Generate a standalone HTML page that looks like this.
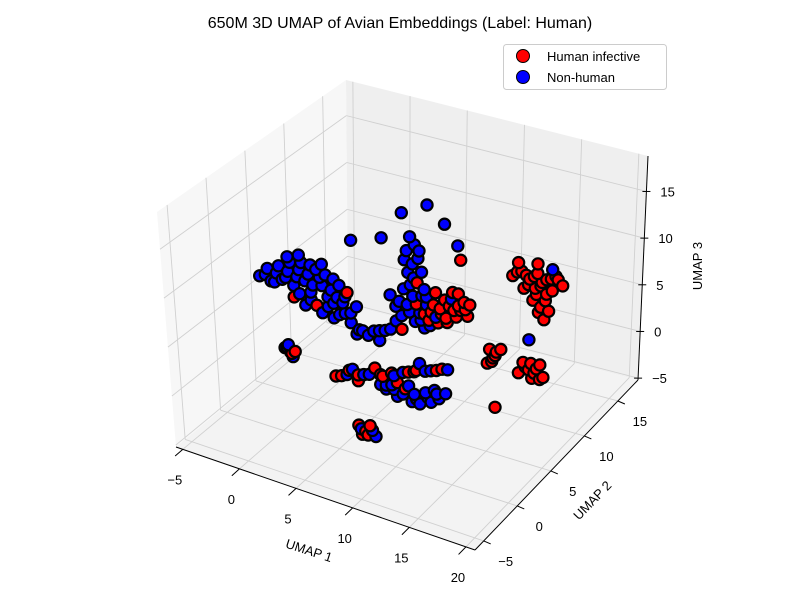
<!DOCTYPE html>
<html><head><meta charset="utf-8"><style>
html,body{margin:0;padding:0;background:#fff;}
svg{display:block;font-family:"Liberation Sans","DejaVu Sans",sans-serif;}
</style></head><body>
<svg id="chart" width="800" height="600" viewBox="0 0 800 600" xmlns="http://www.w3.org/2000/svg">
<text x="400" y="28" text-anchor="middle" font-size="16" fill="#000">650M 3D UMAP of Avian Embeddings (Label: Human)</text>
<g id="panes"></g>
<g id="grid"></g>
<g id="axes"></g>
<g id="points"></g>
<text x="310" y="552" font-size="13" transform="rotate(18 300 546)" text-anchor="middle">UMAP 1</text>
<text x="592" y="505" font-size="13" transform="rotate(-46 592 500)" text-anchor="middle">UMAP 2</text>
<text x="702" y="266" font-size="13" transform="rotate(-90 702 266)" text-anchor="middle">UMAP 3</text>
<g>
<rect x="503.5" y="44.5" width="163" height="45" rx="3" fill="#fff" stroke="#ccc"/>
<g><circle cx="523" cy="56" r="6.5" fill="#ff0000" stroke="#000"/><text x="547" y="61" font-size="13">Human infective</text></g>
<g><circle cx="523" cy="77" r="6.5" fill="#0000ff" stroke="#000"/><text x="547" y="82" font-size="13">Non-human</text></g>
</g>
</svg>
<script>
// axis limits and ticks
const xLim = [-5.6, 20.8];
const yLim = [-6.3, 18.0];
const zLim = [-5.2, 18.8];
const xTicks = [-5, 0, 5, 10, 15, 20];
const yTicks = [-5, 0, 5, 10, 15];
const zTicks = [-5, 0, 5, 10, 15];
// data: UMAP coordinates and label (1 = human infective, 0 = non-human)
const umap1 = [
-5.5,-5,-4.5,-4,-3.5,-3,-2.5,-2,-1.5,-1,-0.5,0,0.5,1,1.5,2,2.5,3,-3,-2,-1,0,1,-2.5,-1.5,-0.5,0.5,1.5,2.5,3.2,
-3.5,-3,-2.6,-3.2,-2.8,
7.8,8.2,7.5,8.5,8.0,8.8,7.6,8.4,9.0,7.2,8.0,9.2,7.5,8.6,9.4,7.0,8.2,9.0,6.5,6.0,10,
3.5,4.5,5.5,3,5,6,
9,9.8,10.5,11.2,12,12.5,10.2,11,11.8,9.5,10.8,12.8,9.2,11.5,
1,2,3,4,5,6,7,8,9,10,11,2.5,4.5,6.5,8.5,5.5,
5,6,7,8,9,10,6.5,8.5,7.5,9.5,10.8,
6.8,7.4,8,7.1,7.8,8.3,
13,13.8,14.5,15.2,16,16.8,17.4,14,15,16,14.8,15.5,16.2,13.5,15.2,16.5,15.8,
11.0,11.5,10.8,11.2,12,14.5,
14,14.5,15.2,15.8,14.8,15.5,13.6,
15.2,
5.44,3.18,1.37,6.97,8.14,8.4,-1.34,
-4.8,-4.2,-3.8,-3.2,-2.8,-2.2,-1.8,-1.2,-0.8,-0.2,0.3,0.8,1.3,1.8,2.2,-1.0,0,1,2,-2,
7.3,8.6,8.1,7.8,8.8,8.3,7.7,8.7,9.6,6.8,5.0,4.0,6.5,7.0,
9.6,10.4,11.6,12.2,10.9,11.4,12.6,13,10,12,
1.5,2.2,3.5,5.2,6.2,7.5,8.2,9.5,10.5,3.0,
5.5,6.2,7.2,8.2,9.2,10.2,7.8,9.8,
13.4,14.2,14.9,15.6,16.4,17,14.4,15.5,16.5,15.1,15.9,15.3,
14.2,15,15.5,14.7,
11.3,11.6,
-3.3,-2.9,
7.6,7.0
];
const umap2 = [
6,6,6,6,6,6,6,6,6,6,6,6,6,6,6,6,6,6,6,6,6,6,6,6,6,6,6,6,6,6,
6,6,6,6,6,
6,6,6,6,6,6,6,6,6,6,6,6,6,6,6,6,6,6,6,6,6,
6,6,6,6,6,6,
6,6,6,6,6,6,6,6,6,6,6,6,6,6,
6,6,6,6,6,6,6,6,6,6,6,6,6,6,6,6,
6,6,6,6,6,6,6,6,6,6,6,
0,0,0,0,0,0,
12,12,12,12,12,12,12,12,12,12,12,12,12,12,12,12,12,
12,12,12,12,12,12,
12,12,12,12,12,12,12,
6,
12,12,12,12,12,12,12,
6,6,6,6,6,6,6,6,6,6,6,6,6,6,6,6,6,6,6,6,
6,6,6,6,6,6,6,6,6,6,6,6,6,6,
6,6,6,6,6,6,6,6,6,6,
6,6,6,6,6,6,6,6,6,6,
6,6,6,6,6,6,6,6,
12,12,12,12,12,12,12,12,12,12,12,12,
12,12,12,12,
12,12,
6,6,
0,0
];
const umap3 = [
5.2,5.5,5.0,6.0,5.5,6.5,5.2,7.0,6.0,5.0,7.5,6.0,5.0,4.5,6.5,5.5,4.0,4.8,8.0,8.5,7.8,8.2,7.0,4.0,3.5,3.8,4.0,3.5,3.0,2.5,
-1.6,-1.9,-1.7,-1.2,-2.3,
13.5,12.8,12.0,11.5,10.8,10.2,9.8,9.0,8.5,8.0,7.5,7.0,6.5,6.0,5.5,5.2,5.0,4.6,6.0,7.0,6,
2.5,2.8,3.2,2,2,3.5,
6,7.2,6.5,7.5,7.8,8.3,5.5,5.8,6.6,5,8,7,7.8,9,
-3,-2.5,-2.2,-1.8,-1.5,-1,-0.6,-0.2,0.2,0.6,1.0,-1.8,-1.0,-1.8,0.8,-2.4,
-2.5,-2.2,-2.8,-2.5,-2.0,-1.8,-3.2,-3.3,-1.8,-2.8,-1.5,
-2.2,-2.6,-2.3,-3.0,-1.9,-2.8,
7.5,8.2,7.6,8.4,8.0,8.6,7.8,6.5,6.8,6.5,5.5,5.0,4.8,9,9.4,9.2,3.8,
-0.8,-1.3,-2.3,-2.0,-0.5,1.3,
-1.2,-1.8,-1.5,-2.2,-2.6,-1.0,-2.4,
-1.4,
12.5,11.0,7.8,10.97,9.07,7.66,6.68,
6.2,5.0,6.8,5.8,7.5,6.2,7.8,6.8,5.8,6.8,7.2,5.8,5.2,4.8,6.0,4.2,3.2,3.0,3.8,4.5,
11,12.3,9.4,8.6,7.8,6.8,5.8,5.3,6.4,6.6,3.0,2.2,4.5,3.8,
6.4,7.0,7.2,7.4,6.2,8.3,7.6,8.2,8.5,9,
-2.8,-2.0,-2.0,-1.6,-1.2,-0.4,0.0,0.4,0.9,-2.8,
-2.8,-2.6,-2.2,-2.9,-2.4,-2.2,-3.3,-1.5,
8.0,7.9,8.0,7.6,8.2,8.3,7.0,7.2,7.0,6.2,5.8,4.4,
-1.6,-2.0,-2.5,-1.1,
-1.6,-0.9,
-1.5,-2.0,
-2.9,-2.5
];
const isHuman = [
0,0,0,0,0,0,0,0,0,0,0,0,0,0,0,0,0,0,0,0,0,0,0,1,0,1,0,0,0,0,
0,0,1,0,0,
0,0,0,0,0,0,0,1,0,0,0,0,0,0,1,0,0,0,0,0,0,
0,0,0,0,0,0,
1,1,1,1,1,1,1,1,1,0,1,1,0,1,
1,0,1,0,1,1,0,1,0,1,0,0,1,1,0,0,
0,0,0,0,0,0,0,0,0,0,0,
1,1,0,1,1,0,
1,1,1,1,1,1,1,1,1,1,1,1,1,1,1,0,1,
1,1,1,1,1,0,
1,1,1,1,1,1,1,
1,
0,0,0,0,0,1,0,
0,0,0,0,0,0,0,0,0,0,0,0,0,0,1,0,0,0,0,0,
0,0,0,0,0,1,0,0,0,0,0,0,0,1,
1,1,1,1,1,0,1,1,1,1,
1,1,0,1,0,1,1,0,1,1,
0,0,1,0,0,0,0,0,
1,1,1,1,1,1,1,1,1,1,1,1,
1,1,1,1,
1,1,
0,1,
1,0
];

const NS = "http://www.w3.org/2000/svg";
const C = {
 "000":[176,447],"100":[475,550],"110":[638,380],"010":[348,305],
 "001":[157,212],"101":[470,292],"111":[648,156],"011":[346,80]
};
function proj(x,y,z){
  const u=(x-xLim[0])/(xLim[1]-xLim[0]), v=(y-yLim[0])/(yLim[1]-yLim[0]), w=(z-zLim[0])/(zLim[1]-zLim[0]);
  let sx=0, sy=0;
  for(const k in C){
    const a=k[0]==="1"?u:1-u, b=k[1]==="1"?v:1-v, c=k[2]==="1"?w:1-w;
    const wt=a*b*c; sx+=wt*C[k][0]; sy+=wt*C[k][1];
  }
  return [sx,sy];
}
function mk(tag, attrs, parent){
  const e=document.createElementNS(NS,tag);
  for(const k in attrs) e.setAttribute(k,attrs[k]);
  parent.appendChild(e); return e;
}
function poly(pts){return pts.map(p=>p[0].toFixed(1)+","+p[1].toFixed(1)).join(" ");}
const X0=xLim[0],X1=xLim[1],Y0=yLim[0],Y1=yLim[1],Z0=zLim[0],Z1=zLim[1];
const panes=document.getElementById("panes");
let p;
p=mk("polygon",{points:poly([proj(X0,Y0,Z0),proj(X0,Y1,Z0),proj(X0,Y1,Z1),proj(X0,Y0,Z1)]),fill:"#f7f7f7"},panes);


p=mk("polygon",{points:poly([proj(X0,Y1,Z0),proj(X1,Y1,Z0),proj(X1,Y1,Z1),proj(X0,Y1,Z1)]),fill:"#efefef"},panes);


p=mk("polygon",{points:poly([proj(X0,Y0,Z0),proj(X1,Y0,Z0),proj(X1,Y1,Z0),proj(X0,Y1,Z0)]),fill:"#f3f3f3"},panes);



const grid=document.getElementById("grid");
function gl(a,b,name){
  const l=mk("line",{x1:a[0],y1:a[1],x2:b[0],y2:b[1],stroke:"#d0d0d0","stroke-width":0.9},grid);
  
  
}
xTicks.forEach(t=>{gl(proj(t,Y0,Z0),proj(t,Y1,Z0),'x-grid-floor');gl(proj(t,Y1,Z0),proj(t,Y1,Z1),'x-grid-back');});
yTicks.forEach(t=>{gl(proj(X0,t,Z0),proj(X1,t,Z0),'y-grid-floor');gl(proj(X0,t,Z0),proj(X0,t,Z1),'y-grid-left');});
zTicks.forEach(t=>{gl(proj(X0,Y0,t),proj(X0,Y1,t),'z-grid-left');gl(proj(X0,Y1,t),proj(X1,Y1,t),'z-grid-back');});

const axes=document.getElementById("axes");
function al(a,b,name){
  const l=mk("line",{x1:a[0],y1:a[1],x2:b[0],y2:b[1],stroke:"#000","stroke-width":1},axes);
  
  
}
al(proj(X0,Y0,Z0),proj(X1,Y0,Z0),'x-axis-line');
al(proj(X1,Y0,Z0),proj(X1,Y1,Z0),'y-axis-line');
al(proj(X1,Y1,Z0),proj(X1,Y1,Z1),'z-axis-line');
function lab(x,y,txt,anchor,name){
  const t=mk("text",{x:x,y:y,"font-size":13,"text-anchor":anchor,fill:"#000"},axes);
  t.textContent=txt;
  
  
}
function fmt(t){return t<0?"\u2212"+Math.abs(t):String(t);}
xTicks.forEach(t=>{
  const a=proj(t,Y0,Z0); const b=proj(t,Y0-0.8,Z0);
  al(a,[b[0]-2,b[1]+2],'x-tick');
  lab(a[0]-8,a[1]+35,fmt(t),"middle",'x-tick-label');
});
yTicks.forEach(t=>{
  const a=proj(X1,t,Z0);
  al(a,[a[0]+7,a[1]+3],'y-tick');
  lab(a[0]+22,a[1]+25,fmt(t),"middle",'y-tick-label');
});
zTicks.forEach(t=>{
  const a=proj(X1,Y1,t);
  al([a[0]-4,a[1]],[a[0]+4,a[1]],'z-tick');
  lab(a[0]+14,a[1]+5,fmt(t),"start",'z-tick-label');
});

const pts=document.getElementById("points");
const order=umap1.map((_,i)=>i);
function depth(i){
  const u=(umap1[i]-X0)/(X1-X0), v=(umap2[i]-Y0)/(Y1-Y0), w=(umap3[i]-Z0)/(Z1-Z0);
  return 0.5*u-0.866*v+0.3*w;
}
order.sort((a,b)=>depth(a)-depth(b));
order.forEach(i=>{
  const s=proj(umap1[i],umap2[i],umap3[i]);
  const c=mk("circle",{cx:s[0].toFixed(1),cy:s[1].toFixed(1),r:5.6,fill:isHuman[i]?"#ff0000":"#0000ff",stroke:"#000","stroke-width":2.2},pts);
  
  
});
</script>
</body></html>
